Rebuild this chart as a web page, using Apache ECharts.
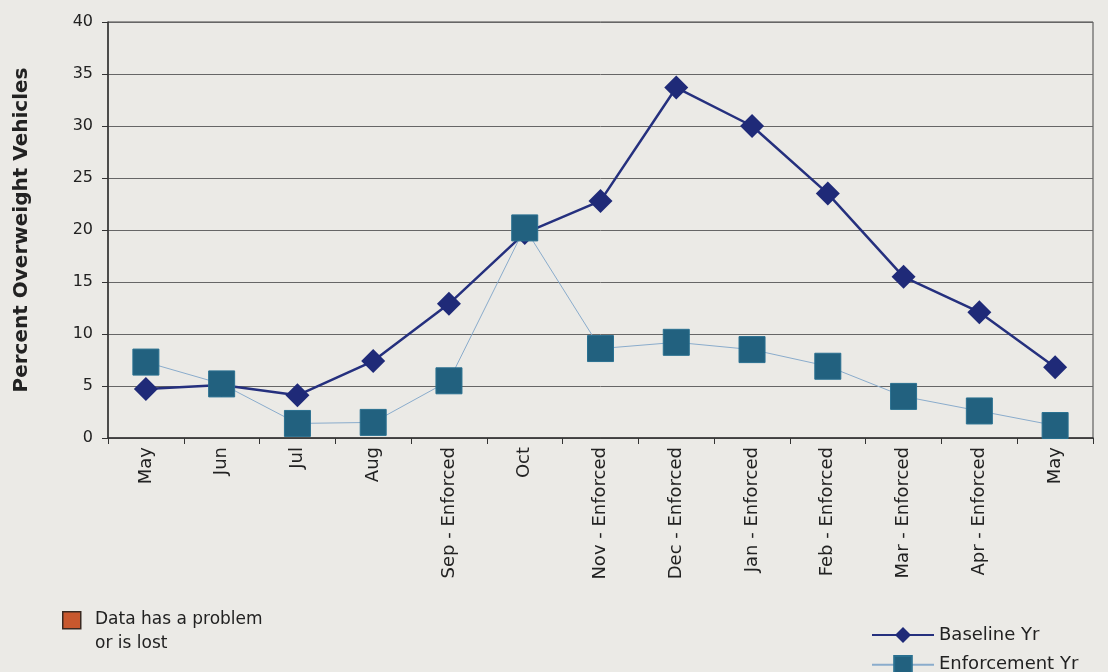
<!DOCTYPE html>
<html>
<head>
<meta charset="utf-8">
<script src="https://cdn.jsdelivr.net/npm/echarts@6/dist/echarts.min.js"></script>
<style>
html,body{margin:0;padding:0;background:#ebeae6;}
#chart{width:1108px;height:672px;}
</style>
</head>
<body>
<div id="chart"></div>
<script>
const categories = ['May','Jun','Jul','Aug','Sep - Enforced','Oct','Nov - Enforced','Dec - Enforced','Jan - Enforced','Feb - Enforced','Mar - Enforced','Apr - Enforced','May'];
const baselineYr = [4.7, 5.1, 4.1, 7.4, 12.9, 19.7, 22.8, 33.7, 30.0, 23.5, 15.5, 12.1, 6.8];
const enforcementYr = [7.3, 5.2, 1.4, 1.5, 5.5, 20.2, 8.6, 9.2, 8.5, 6.9, 4.0, 2.6, 1.2];
const yTicks = [0, 5, 10, 15, 20, 25, 30, 35, 40];

const chart = echarts.init(document.getElementById('chart'));
const font = '"DejaVu Sans", Arial, sans-serif';
chart.setOption({
  backgroundColor: '#ebeae6',
  animation: false,
  grid: {left: 108, right: 15, top: 22, bottom: 234, show: true, borderColor: '#444', borderWidth: 1, backgroundColor: 'transparent'},
  xAxis: {
    type: 'category',
    data: categories,
    boundaryGap: true,
    axisLine: {lineStyle: {color: '#333', width: 1.5}},
    axisTick: {show: true, length: 6, lineStyle: {color: '#333'}},
    axisLabel: {rotate: 90, color: '#222', fontFamily: font, fontSize: 18, margin: 9, interval: 0}
  },
  yAxis: {
    type: 'value',
    min: yTicks[0], max: yTicks[yTicks.length - 1], interval: 5,
    name: 'Percent Overweight Vehicles',
    nameLocation: 'middle',
    nameGap: 76,
    nameTextStyle: {fontFamily: font, fontSize: 20, fontWeight: 'bold', color: '#222'},
    axisLine: {show: true, lineStyle: {color: '#333', width: 1.5}},
    axisTick: {show: true, length: 6, lineStyle: {color: '#333'}},
    axisLabel: {color: '#222', fontFamily: font, fontSize: 16, margin: 15},
    splitLine: {lineStyle: {color: '#666', width: 1}}
  },
  legend: [
    {
      left: 866, top: 621,
      itemWidth: 62, itemHeight: 20,
      textStyle: {fontFamily: font, fontSize: 18, color: '#222'},
      data: ['Baseline Yr']
    },
    {
      left: 866, top: 650,
      itemWidth: 62, itemHeight: 22,
      textStyle: {fontFamily: font, fontSize: 18, color: '#222'},
      data: ['Enforcement Yr']
    }
  ],
  series: [
    {
      name: 'Enforcement Yr', type: 'line', data: enforcementYr,
      symbol: 'rect', symbolSize: 26,
      itemStyle: {color: '#22617f', borderColor: '#2a7090', borderWidth: 1},
      lineStyle: {color: '#8aaccc', width: 1},
      z: 3
    },
    {
      name: 'Baseline Yr', type: 'line', data: baselineYr,
      symbol: 'diamond', symbolSize: [24, 24],
      itemStyle: {color: '#1f2a78'},
      lineStyle: {color: '#25307e', width: 2.5},
      z: 2
    }
  ],
  graphic: [
    {type: 'rect', left: 62, top: 611, shape: {width: 18, height: 17}, style: {fill: '#c8582e', stroke: '#3a2a22', lineWidth: 1.5}},
    {type: 'text', left: 95, top: 608, style: {text: 'Data has a problem\nor is lost', font: '17px ' + font, fill: '#222', lineHeight: 24}}
  ]
});
</script>
</body>
</html>
